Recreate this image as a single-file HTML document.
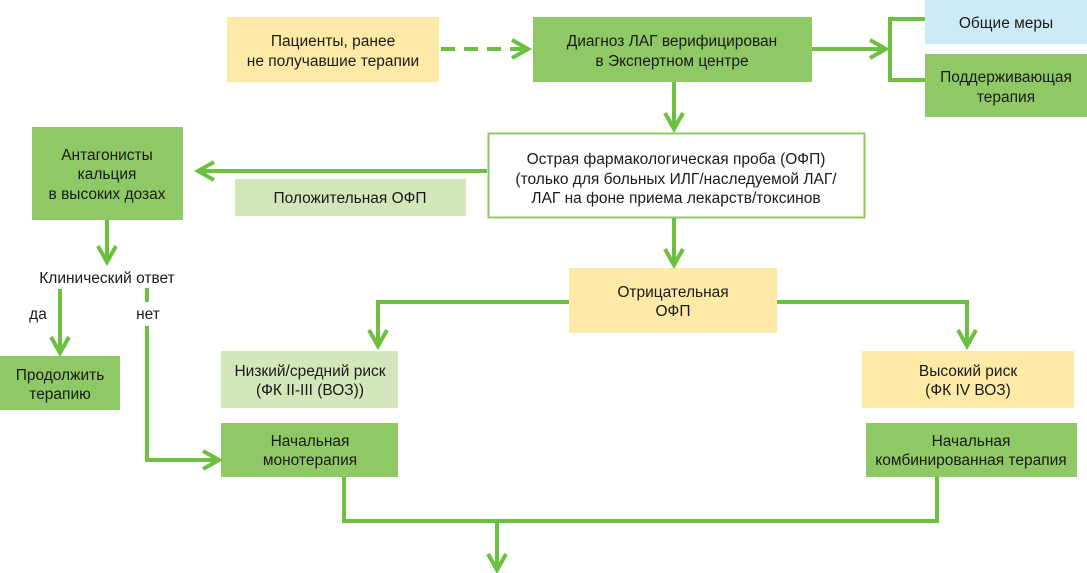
<!DOCTYPE html>
<html><head><meta charset="utf-8"><style>
html,body{margin:0;padding:0;background:#fff}
svg{display:block}
text{font-family:"Liberation Sans Narrow","Liberation Sans",sans-serif;font-size:15.5px;fill:#1a1a1a;text-anchor:middle}
.l{stroke:#6cbf3f;stroke-width:4;fill:none}
</style></head><body>
<svg width="1087" height="573" viewBox="0 0 1087 573">
<!-- boxes -->
<rect x="227" y="17" width="212" height="65" fill="#fdeaa6"/>
<rect x="533" y="17" width="279" height="65" fill="#8fc965"/>
<rect x="925" y="0" width="162" height="44" fill="#cdeaf8"/>
<rect x="925" y="54" width="162" height="63" fill="#8fc965"/>
<rect x="488.5" y="133.5" width="376" height="84" fill="#fff" stroke="#8fc965" stroke-width="2"/>
<rect x="32" y="127" width="151" height="93" fill="#8fc965"/>
<rect x="235" y="179" width="231" height="37" fill="#d3e7bb"/>
<rect x="0" y="356" width="120" height="54" fill="#8fc965"/>
<rect x="569" y="268" width="208" height="65" fill="#fdeaa6"/>
<rect x="221" y="351" width="177" height="57" fill="#d3e7bb"/>
<rect x="221" y="423" width="177" height="54" fill="#8fc965"/>
<rect x="862" y="351" width="212" height="57" fill="#fdeaa6"/>
<rect x="866" y="423" width="211" height="54" fill="#8fc965"/>
<!-- lines -->
<path class="l" d="M441 49H525" stroke-dasharray="14,9"/>
<path class="l" d="M512 40L528 49L512 58"/>
<path class="l" d="M812 49H885M870 40L886 49L870 58"/>
<path class="l" d="M925 19H890V80H925"/>
<path class="l" d="M674 82V128M665 113L674 129L683 113"/>
<path class="l" d="M487 171H200M214 162L198 171L214 180"/>
<path class="l" d="M107 220V261M98 246L107 262L116 246"/>
<path class="l" d="M60 289V352M51 337L60 353L69 337"/>
<path class="l" d="M147 288V302M147 326V460H218M203 451L219 460L203 469"/>
<path class="l" d="M674 218V264M665 249L674 265L683 249"/>
<path class="l" d="M569 302H378V345M369 330L378 346L387 330"/>
<path class="l" d="M777 302H967V345M958 330L967 346L976 330"/>
<path class="l" d="M344 477V521H937V477M497 521V569M488 554L497 570L506 554"/>
<!-- text -->
<text x="333" y="46">Пациенты, ранее</text>
<text x="333" y="66">не получавшие терапии</text>
<text x="672" y="46">Диагноз ЛАГ верифицирован</text>
<text x="672" y="66">в Экспертном центре</text>
<text x="1006" y="28">Общие меры</text>
<text x="1006" y="82">Поддерживающая</text>
<text x="1006" y="102">терапия</text>
<text x="676" y="164">Острая фармакологическая проба (ОФП)</text>
<text x="676" y="184">(только для больных ИЛГ/наследуемой ЛАГ/</text>
<text x="676" y="203">ЛАГ на фоне приема лекарств/токсинов</text>
<text x="107" y="160">Антагонисты</text>
<text x="107" y="179">кальция</text>
<text x="107" y="199">в высоких дозах</text>
<text x="350" y="203">Положительная ОФП</text>
<text x="107" y="283">Клинический ответ</text>
<text x="38" y="319">да</text>
<text x="148" y="319">нет</text>
<text x="60" y="380">Продолжить</text>
<text x="60" y="399">терапию</text>
<text x="673" y="297">Отрицательная</text>
<text x="673" y="316">ОФП</text>
<text x="310" y="376">Низкий/средний риск</text>
<text x="310" y="395">(ФК II-III (ВОЗ))</text>
<text x="310" y="446">Начальная</text>
<text x="310" y="465">монотерапия</text>
<text x="968" y="376">Высокий риск</text>
<text x="968" y="395">(ФК IV ВОЗ)</text>
<text x="971" y="446">Начальная</text>
<text x="971" y="465">комбинированная терапия</text>
</svg>
</body></html>
